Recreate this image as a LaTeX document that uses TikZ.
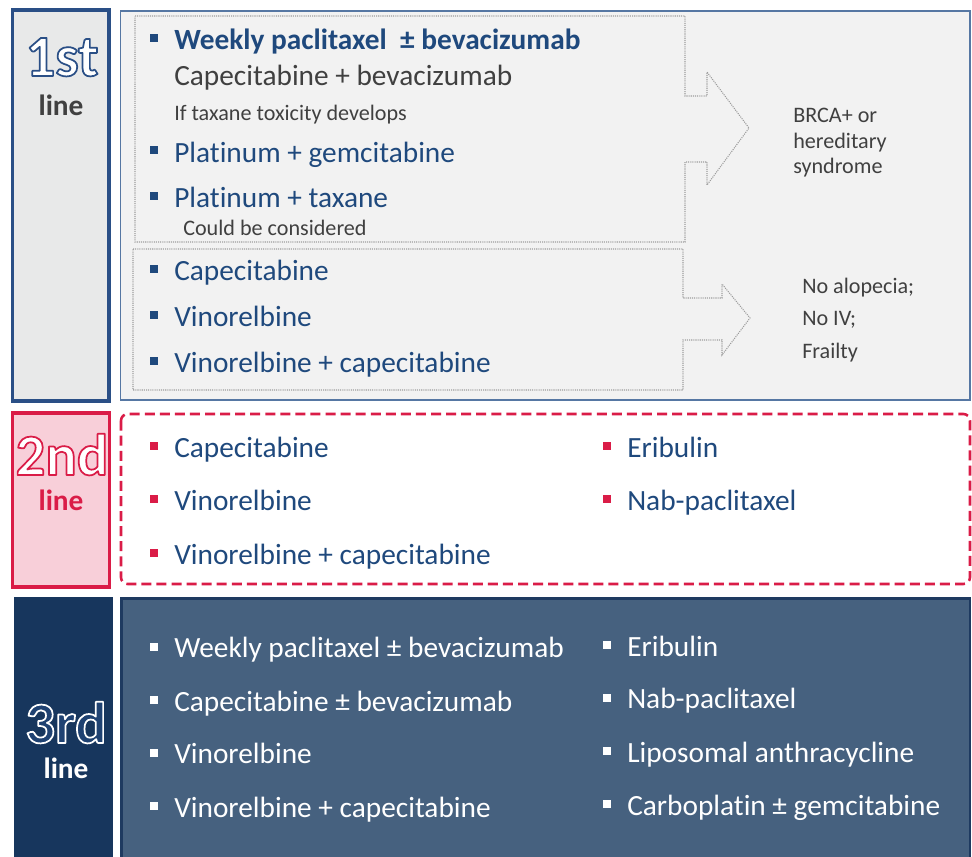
\documentclass[tikz,border=0pt]{standalone}
\usepackage{fontspec}
\setmainfont{Carlito}[Ligatures=NoCommon]
\usetikzlibrary{calc}

\definecolor{txtblue}{HTML}{1F497D}
\definecolor{txtgray}{HTML}{404040}
\definecolor{firstedge}{HTML}{2A4F86}
\definecolor{firstfill}{HTML}{E8E9E9}
\definecolor{panelfill}{HTML}{F2F2F2}
\definecolor{paneledge}{HTML}{5677A3}
\definecolor{dotgray}{HTML}{9C9C9C}
\definecolor{crimson}{HTML}{DA1C47}
\definecolor{pinkfill}{HTML}{F8CFD9}
\definecolor{navy}{HTML}{17365D}
\definecolor{thirdglyph}{HTML}{1F4272}
\definecolor{slate}{HTML}{46617F}
\definecolor{slateedge}{HTML}{1E3A60}

\newcommand{\mainsz}{\fontsize{22}{26}\selectfont}
\newcommand{\smallsz}{\fontsize{16.6}{20}\selectfont}
\newcommand{\bigsz}{\fontsize{44}{50}\selectfont\bfseries}
\newcommand{\linesz}{\fontsize{22}{26}\selectfont\bfseries}

% large line-number label, glyphs filled and then stroked:
% name, x, y, text, fill colour, stroke colour (pdf rgb triple)
\newcommand{\outlinedlabel}[6]{%
  \node[biglbl,text=#5] (#1) at (#2,#3)
    {\special{pdf:literal direct 2 Tr 1.3 w 1 j #6 RG}#4\special{pdf:literal direct 0 Tr}};}

\begin{document}
\begin{tikzpicture}[x=0.75pt,y=-0.75pt,
  item/.style={anchor=base west,inner sep=0pt,font=\mainsz,text=txtblue},
  note/.style={anchor=base west,inner sep=0pt,font=\smallsz,text=txtgray},
  bul/.style={fill=#1,draw=none,inner sep=0pt,minimum size=6pt},
  biglbl/.style={anchor=base,inner sep=0pt,font=\bigsz},
  linelbl/.style={anchor=base,inner sep=0pt,font=\linesz},
  dotline/.style={draw=dotgray,line width=0.8pt,dash pattern=on 0.8pt off 0.8pt}]

\useasboundingbox (0,0) rectangle (972,857);
\fill[white] (0,0) rectangle (972,857);

% ---------- first line ----------
\draw[firstedge,fill=firstfill,line width=2.4pt] (12.5,10) rectangle (109,401);
\draw[paneledge,fill=panelfill,line width=0.9pt] (120.5,11) rectangle (970,400);

% dotted arrow-shaped groups
\draw[dotline] (135,16) -- (685,16) -- (685,96) -- (707,96) -- (707,72)
  -- (749,128) -- (707,185) -- (707,162) -- (685,162) -- (685,242)
  -- (135,242) -- cycle;
\draw[dotline] (133,249) -- (683,249) -- (683,298) -- (722,298) -- (722,284)
  -- (750,318) -- (722,355) -- (722,340) -- (683,340) -- (683,390)
  -- (133,390) -- cycle;

\outlinedlabel{l1}{62}{76}{1st}{white}{0.165 0.31 0.525}
\node[linelbl,text=txtgray] (l1b) at (61,115) {line};

\node[bul=txtblue] (b11) at (154,38) {};
\node[item,font=\mainsz\bfseries] (t11) at (174,49) {Weekly paclitaxel \ ± bevacizumab};
\node[item,text=txtgray] (t12) at (174,85) {Capecitabine + bevacizumab};
\node[note] (t13) at (174,120) {If taxane toxicity develops};
\node[bul=txtblue] (b14) at (154,150) {};
\node[item] (t14) at (174,162) {Platinum + gemcitabine};
\node[bul=txtblue] (b15) at (154,196) {};
\node[item] (t15) at (174,207) {Platinum + taxane};
\node[note] (t16) at (183,235) {Could be considered};

\node[bul=txtblue] (b17) at (154,269) {};
\node[item] (t17) at (174,280) {Capecitabine};
\node[bul=txtblue] (b18) at (154,315) {};
\node[item] (t18) at (174,326) {Vinorelbine};
\node[bul=txtblue] (b19) at (154,361) {};
\node[item] (t19) at (174,372) {Vinorelbine + capecitabine};

\node[note] (r11) at (793,122) {BRCA+ or};
\node[note] (r12) at (793,148) {hereditary};
\node[note] (r13) at (793,173) {syndrome};
\node[note] (r21) at (802,293) {No alopecia;};
\node[note] (r22) at (802,325) {No IV;};
\node[note] (r23) at (802,358) {Frailty};

% ---------- second line ----------
\draw[crimson,fill=pinkfill,line width=2.4pt] (12.5,413) rectangle (109.5,587);
\draw[crimson,fill=white,line width=1.9pt,rounded corners=5pt,
  dash pattern=on 7.5pt off 3.8pt] (121,414) rectangle (970,584);

\outlinedlabel{l2}{62}{475}{2nd}{white}{0.855 0.11 0.278}
\node[linelbl,text=crimson] (l2b) at (61,510) {line};

\node[bul=crimson] (b21) at (154,446) {};
\node[item] (t21) at (174,457) {Capecitabine};
\node[bul=crimson] (b22) at (154,499) {};
\node[item] (t22) at (174,510) {Vinorelbine};
\node[bul=crimson] (b23) at (154,553) {};
\node[item] (t23) at (174,564) {Vinorelbine + capecitabine};
\node[bul=crimson] (b24) at (606.5,446) {};
\node[item] (t24) at (627,457) {Eribulin};
\node[bul=crimson] (b25) at (606.5,499) {};
\node[item] (t25) at (627,510) {Nab-paclitaxel};

% ---------- third line ----------
\fill[navy] (14,597) rectangle (113,860);
\draw[slateedge,fill=slate,line width=1.6pt] (121.5,598.5) rectangle (970,860);

\outlinedlabel{l3}{66}{743}{3rd}{thirdglyph}{1 1 1}
\node[linelbl,text=white] (l3b) at (66,778) {line};

\node[bul=white] (b31) at (154,647) {};
\node[item,text=white] (t31) at (174,657) {Weekly paclitaxel ± bevacizumab};
\node[bul=white] (b32) at (154,700) {};
\node[item,text=white] (t32) at (174,711) {Capecitabine ± bevacizumab};
\node[bul=white] (b33) at (154,753) {};
\node[item,text=white] (t33) at (174,763) {Vinorelbine};
\node[bul=white] (b34) at (154,806) {};
\node[item,text=white] (t34) at (174,817) {Vinorelbine + capecitabine};
\node[bul=white] (b35) at (606.5,645) {};
\node[item,text=white] (t35) at (627,656) {Eribulin};
\node[bul=white] (b36) at (606.5,698) {};
\node[item,text=white] (t36) at (627,708) {Nab-paclitaxel};
\node[bul=white] (b37) at (606.5,751) {};
\node[item,text=white] (t37) at (627,762) {Liposomal anthracycline};
\node[bul=white] (b38) at (606.5,804) {};
\node[item,text=white] (t38) at (627,815) {Carboplatin ± gemcitabine};
\end{tikzpicture}
\end{document}
